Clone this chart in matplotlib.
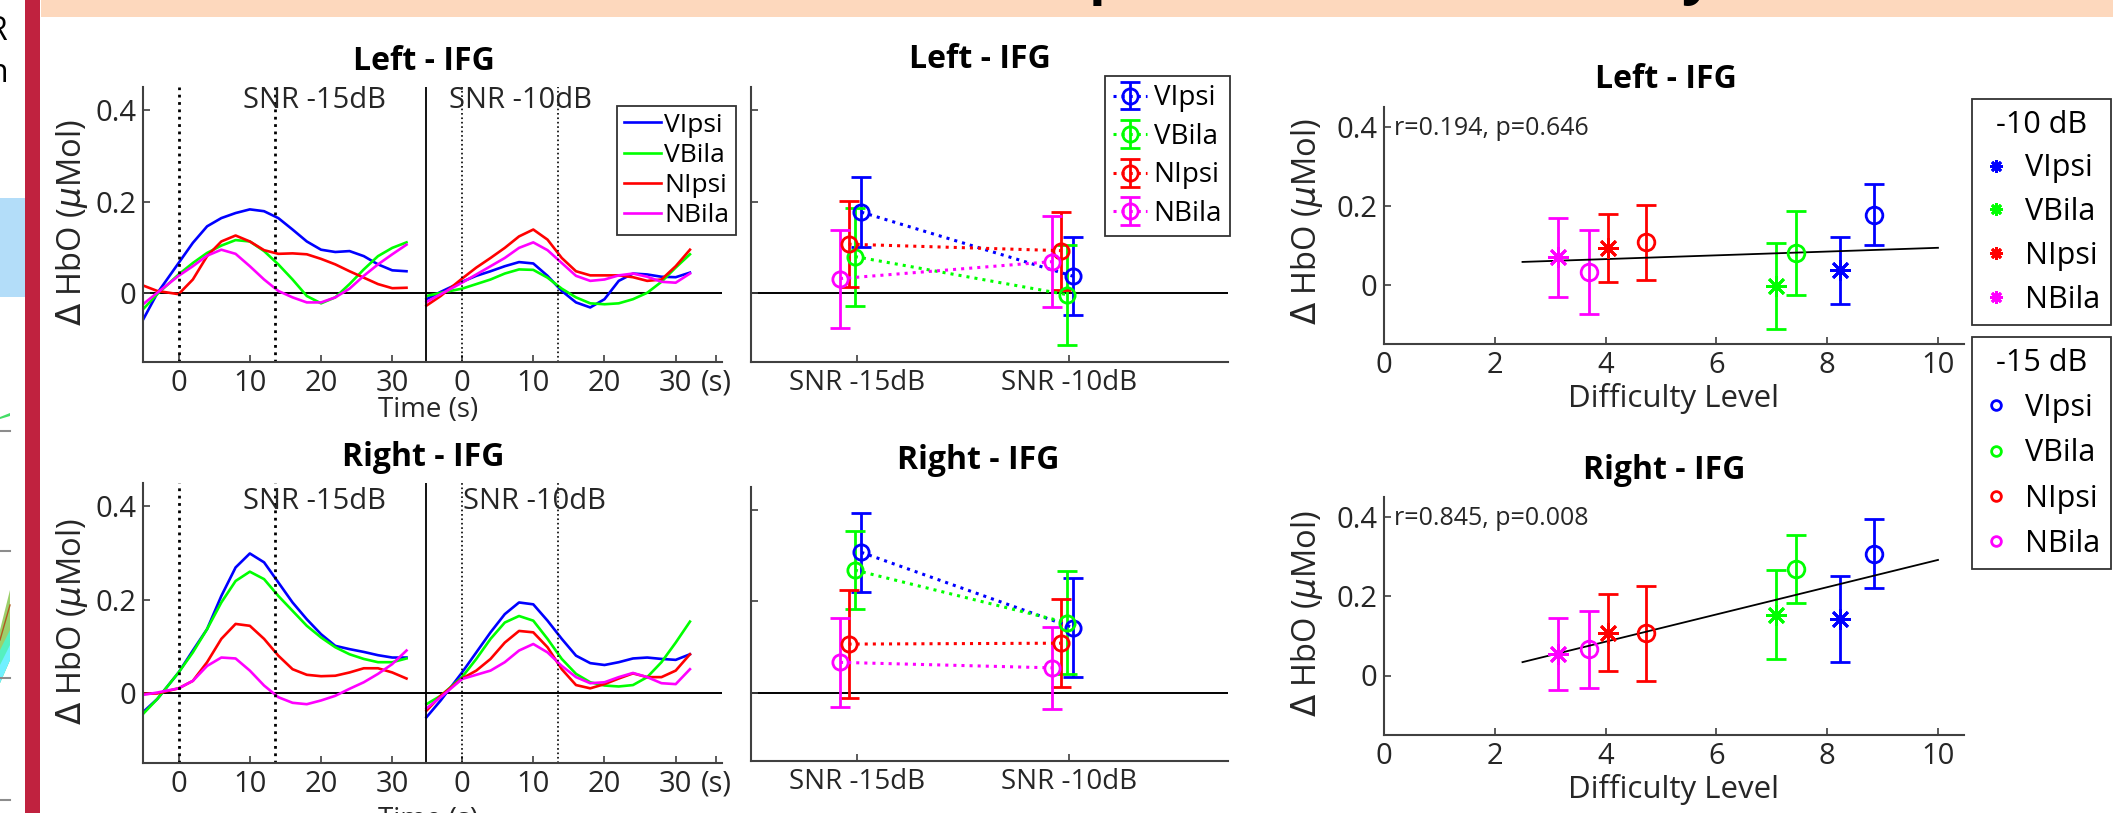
import numpy as np
import matplotlib
matplotlib.use('Agg')
import matplotlib.pyplot as plt
from matplotlib.lines import Line2D
from matplotlib.patches import Rectangle, Polygon

plt.rcParams['font.family'] = ['Open Sans', 'DejaVu Sans']
plt.rcParams['mathtext.fontset'] = 'dejavusans'

W, H = 2113, 813

# ---------------- data ----------------
conds = ['VIpsi', 'VBila', 'NIpsi', 'NBila']
colors = ['#0000ff', '#00ff00', '#ff0000', '#ff00ff']
snr_labels = ['SNR -15dB', 'SNR -10dB']

# time courses (s), rows = VIpsi, VBila, NIpsi, NBila
t = [-5, -3, 0, 2, 4, 6, 8, 10, 12, 14, 16, 18, 20, 22, 24, 26, 28, 30, 32]

left_15 = [
    [-0.058, 0.000, 0.066, 0.110, 0.146, 0.164, 0.175, 0.183, 0.179, 0.164, 0.139, 0.113, 0.095, 0.090, 0.092, 0.081, 0.063, 0.050, 0.048],
    [-0.035, -0.002, 0.041, 0.066, 0.088, 0.104, 0.116, 0.113, 0.092, 0.063, 0.030, -0.006, -0.022, -0.009, 0.020, 0.052, 0.081, 0.099, 0.111],
    [0.017, 0.005, -0.002, 0.030, 0.081, 0.113, 0.126, 0.113, 0.094, 0.086, 0.087, 0.085, 0.075, 0.063, 0.048, 0.034, 0.020, 0.011, 0.012],
    [-0.024, 0.001, 0.038, 0.059, 0.082, 0.095, 0.086, 0.059, 0.030, 0.005, -0.009, -0.020, -0.020, -0.009, 0.010, 0.038, 0.063, 0.085, 0.106],
]
left_10 = [
    [-0.013, 0.003, 0.025, 0.038, 0.048, 0.059, 0.068, 0.065, 0.038, 0.005, -0.020, -0.031, -0.013, 0.027, 0.043, 0.041, 0.036, 0.035, 0.045],
    [-0.006, 0.001, 0.010, 0.020, 0.030, 0.043, 0.052, 0.051, 0.034, 0.010, -0.009, -0.022, -0.024, -0.022, -0.013, 0.001, 0.025, 0.056, 0.085],
    [-0.027, -0.006, 0.032, 0.056, 0.077, 0.099, 0.124, 0.139, 0.117, 0.077, 0.048, 0.039, 0.039, 0.039, 0.035, 0.027, 0.030, 0.059, 0.095],
    [-0.019, -0.002, 0.023, 0.041, 0.059, 0.077, 0.099, 0.111, 0.094, 0.066, 0.038, 0.027, 0.030, 0.039, 0.043, 0.036, 0.025, 0.023, 0.043],
]
right_15 = [
    [-0.041, -0.013, 0.044, 0.091, 0.137, 0.208, 0.269, 0.299, 0.280, 0.237, 0.194, 0.158, 0.126, 0.101, 0.094, 0.088, 0.081, 0.076, 0.076],
    [-0.045, -0.013, 0.044, 0.087, 0.137, 0.194, 0.240, 0.260, 0.244, 0.208, 0.176, 0.144, 0.119, 0.098, 0.083, 0.073, 0.066, 0.066, 0.074],
    [-0.002, -0.001, 0.010, 0.026, 0.066, 0.116, 0.148, 0.144, 0.116, 0.080, 0.051, 0.039, 0.036, 0.037, 0.044, 0.053, 0.053, 0.044, 0.031],
    [-0.004, 0.001, 0.010, 0.026, 0.058, 0.076, 0.074, 0.048, 0.016, -0.009, -0.021, -0.024, -0.016, -0.006, 0.009, 0.023, 0.041, 0.062, 0.091],
]
right_10 = [
    [-0.052, -0.016, 0.044, 0.087, 0.130, 0.169, 0.194, 0.190, 0.155, 0.116, 0.080, 0.064, 0.060, 0.066, 0.074, 0.076, 0.073, 0.071, 0.083],
    [-0.024, -0.006, 0.034, 0.073, 0.116, 0.151, 0.165, 0.155, 0.116, 0.073, 0.041, 0.023, 0.016, 0.014, 0.017, 0.034, 0.066, 0.108, 0.153],
    [-0.038, -0.006, 0.031, 0.048, 0.073, 0.108, 0.133, 0.130, 0.098, 0.051, 0.017, 0.010, 0.019, 0.031, 0.042, 0.034, 0.034, 0.048, 0.083],
    [-0.033, -0.009, 0.030, 0.039, 0.048, 0.066, 0.091, 0.105, 0.087, 0.058, 0.034, 0.021, 0.023, 0.034, 0.043, 0.034, 0.021, 0.019, 0.051],
]

# mean +- error, averaged over window
left_m15 = [0.177, 0.080, 0.107, 0.032]
left_e15 = [0.077, 0.107, 0.094, 0.107]
left_m10 = [0.037, -0.003, 0.093, 0.069]
left_e10 = [0.085, 0.109, 0.085, 0.099]
right_m15 = [0.307, 0.268, 0.106, 0.066]
right_e15 = [0.087, 0.086, 0.119, 0.097]
right_m10 = [0.142, 0.153, 0.108, 0.054]
right_e10 = [0.109, 0.112, 0.097, 0.090]

# difficulty level per condition
diff_15 = [8.84, 7.44, 4.73, 3.70]
diff_10 = [8.24, 7.07, 4.04, 3.14]

r_left = 'r=0.194, p=0.646'
r_right = 'r=0.845, p=0.008'

# ---------------- figure ----------------
fig = plt.figure(figsize=(W / 100, H / 100), dpi=100)
fig.patch.set_facecolor('white')

def box(l, tp, r, b):
    return [l / W, 1 - b / H, (r - l) / W, (b - tp) / H]

def fx(x):
    return x / W

def fy(y):
    return 1 - y / H

TXT = '#262626'
SPC = '0.25'

# background slide pieces
bg = fig.add_axes([0, 0, 1, 1], zorder=-5)
bg.set_xlim(0, W)
bg.set_ylim(H, 0)
bg.axis('off')
bg.add_patch(Rectangle((0, 198), 25, 99, color='#b3ddf9', lw=0))
bg.add_patch(Rectangle((25, 0), 15, H, color='#c0223f', lw=0))
bg.add_patch(Rectangle((41, 0), W - 41, 17, color='#fdd8bd', lw=0))
for yy in [431, 551, 678, 800]:
    bg.plot([0, 10], [yy, yy], color='0.55', lw=1.5)
bg.add_patch(Polygon([[0, 417], [10, 413], [10, 416], [0, 419]], color='#44dd66', lw=0))
bg.add_patch(Polygon([[0, 630], [10, 590], [10, 660], [0, 683]], color='#9ccf6a', lw=0))
bg.add_patch(Polygon([[0, 650], [10, 630], [10, 660], [0, 683]], color='#55f0c0', lw=0))
bg.add_patch(Polygon([[0, 665], [10, 645], [10, 660], [0, 683]], color='#70f0ff', lw=0))
bg.plot([0, 10], [640, 605], color='#b05a20', lw=1)
fig.text(fx(7.5), fy(32), 'R', fontsize=23, ha='right', va='center', color='k')
fig.text(fx(7.5), fy(74), 'n', fontsize=23, ha='right', va='center', color='k')
fig.text(fx(1089), fy(-7), 'p', fontsize=40, fontweight='bold', ha='left', va='baseline', color='k')
fig.text(fx(1681), fy(-7), 'y', fontsize=40, fontweight='bold', ha='left', va='baseline', color='k')


def style_axes(ax, size):
    for s in ['top', 'right']:
        ax.spines[s].set_visible(False)
    for s in ['left', 'bottom']:
        ax.spines[s].set_color(SPC)
        ax.spines[s].set_linewidth(1.5)
    ax.tick_params(direction='in', length=5, width=1.2, colors=SPC,
                   labelcolor=TXT, labelsize=size, pad=5)
    ax.set_facecolor('none')


SHIFT = 39.8
SEP = 34.8
tt = np.array(t)


def draw_time(ax, d15, d10, y_snr, x_snr10):
    style_axes(ax, 21)
    for i in range(4):
        ax.plot(tt, d15[i], color=colors[i], lw=1.9, label=conds[i])
        ax.plot(tt + SHIFT, d10[i], color=colors[i], lw=1.9)
    ax.axhline(0, color='k', lw=1.4, zorder=1)
    ax.axvline(SEP, color='k', lw=1.3)
    for xv in [0, 13.5]:
        ax.axvline(xv, color='k', ls=':', lw=2.0)
    for xv in [SHIFT, SHIFT + 13.5]:
        ax.axvline(xv, color='k', ls=':', lw=1.2)
    ax.set_xlim(-5, 76.3)
    ax.set_ylim(-0.15, 0.45)
    ax.set_yticks([0, 0.2, 0.4])
    ax.set_yticklabels(['0', '0.2', '0.4'])
    ax.set_xticks([0, 10, 20, 30, SHIFT, SHIFT + 10, SHIFT + 20, SHIFT + 30, 75.5])
    ax.set_xticklabels(['0', '10', '20', '30', '0', '10', '20', '30', '(s)'])
    ax.text(9, y_snr, snr_labels[0], fontsize=21, color=TXT, va='center')
    ax.text(x_snr10, y_snr, snr_labels[1], fontsize=21, color=TXT, va='center')


off = [0.02, -0.01, -0.04, -0.08]


def draw_mid(ax, m15, e15, m10, e10):
    style_axes(ax, 20)
    ax.axhline(0, color='k', lw=1.4, zorder=1)
    for i in range(4):
        ax.errorbar([1 + off[i], 2 + off[i]], [m15[i], m10[i]], yerr=[e15[i], e10[i]],
                    color=colors[i], ls=':', lw=2.2, marker='o', ms=11, mfc='none',
                    mew=2, capsize=7, capthick=2, elinewidth=2, label=conds[i])
    ax.set_xlim(0.5, 2.75)
    ax.set_ylim(-0.15, 0.45)
    ax.set_yticks([0, 0.2, 0.4])
    ax.set_yticklabels([])
    ax.set_xticks([1, 2])
    ax.set_xticklabels(snr_labels)


STAR = (8, 2, 0)


def draw_scatter(ax, m15, e15, m10, e10, rtxt):
    style_axes(ax, 21)
    for i in range(4):
        ax.errorbar(diff_10[i], m10[i], yerr=e10[i], color=colors[i], ls='none',
                    marker=STAR, ms=15, mew=2, capsize=7, capthick=2, elinewidth=2)
        ax.errorbar(diff_15[i], m15[i], yerr=e15[i], color=colors[i], ls='none',
                    marker='o', ms=12, mfc='none', mew=2, capsize=7, capthick=2, elinewidth=2)
    xs = np.concatenate([diff_15, diff_10])
    ys = np.concatenate([m15, m10])
    k, b = np.polyfit(xs, ys, 1)
    xl = np.array([2.5, 10])
    ax.plot(xl, k * xl + b, color='k', lw=1.3)
    ax.set_xlim(0, 10.47)
    ax.set_ylim(-0.15, 0.45)
    ax.set_yticks([0, 0.2, 0.4])
    ax.set_yticklabels(['0', '0.2', '0.4'])
    ax.set_xticks([0, 2, 4, 6, 8, 10])
    ax.text(0.18, 0.395, rtxt, fontsize=18, color=TXT, va='center')


ylab = r'$\Delta$ HbO ($\mu$Mol)'

# time course panels
axA1 = fig.add_axes(box(143, 87, 722, 362))
draw_time(axA1, left_15, left_10, 0.42, 38)
axA2 = fig.add_axes(box(143, 483, 722, 763))
draw_time(axA2, right_15, right_10, 0.41, 40)
axA1.legend(loc='upper left', bbox_to_anchor=(fx(617), fy(106)), bbox_transform=fig.transFigure,
            borderaxespad=0, fontsize=19, handlelength=1.4, handletextpad=0.15,
            labelspacing=0.2, borderpad=0.25, fancybox=False, edgecolor='0.2',
            framealpha=1).get_frame().set_linewidth(1.3)

# mean panels
axB1 = fig.add_axes(box(751, 87, 1228, 362))
draw_mid(axB1, left_m15, left_e15, left_m10, left_e10)
axB2 = fig.add_axes(box(751, 487, 1228, 761))
draw_mid(axB2, right_m15, right_e15, right_m10, right_e10)
legB = axB1.legend(loc='upper left', bbox_to_anchor=(fx(1105), fy(76)), bbox_transform=fig.transFigure,
                   borderaxespad=0, fontsize=20, handlelength=1.2, handletextpad=0.25,
                   labelspacing=0.38, borderpad=0.3, fancybox=False, edgecolor='0.2', framealpha=1)
legB.get_frame().set_linewidth(1.3)

# correlation panels
axC1 = fig.add_axes(box(1384, 107, 1964, 344))
draw_scatter(axC1, left_m15, left_e15, left_m10, left_e10, r_left)
axC2 = fig.add_axes(box(1384, 497, 1964, 735))
draw_scatter(axC2, right_m15, right_e15, right_m10, right_e10, r_right)

h10 = [Line2D([], [], color=c, marker=STAR, ls='none', ms=9, mew=2) for c in colors]
h15 = [Line2D([], [], color=c, marker='o', ls='none', ms=7, mfc='none', mew=2) for c in colors]
for hh, ttl, ytop, sp in [(h10, '-10 dB', 99, 0.45), (h15, '-15 dB', 337, 0.5)]:
    lg = fig.legend(hh, conds, title=ttl, loc='upper left', bbox_to_anchor=(fx(1972), fy(ytop)),
                    borderaxespad=0, fontsize=22, title_fontsize=22, handlelength=0.9,
                    handletextpad=0.5, labelspacing=sp, borderpad=0.35, fancybox=False,
                    edgecolor='0.2', framealpha=1)
    lg.get_frame().set_linewidth(1.3)

# titles and labels
for (x, y, s) in [(424, 61, 'Left - IFG'), (423, 457, 'Right - IFG'),
                  (980, 60, 'Left - IFG'), (978, 460, 'Right - IFG'),
                  (1666, 79, 'Left - IFG'), (1664, 470, 'Right - IFG')]:
    fig.text(fx(x), fy(y), s, fontsize=23, fontweight='bold', ha='center', va='center', color='k')

for (x, y) in [(72, 223), (72, 622), (1307, 222), (1307, 614)]:
    fig.text(fx(x), fy(y), ylab, fontsize=23.5, rotation=90, ha='center', va='center', color=TXT)

fig.text(fx(428), fy(410), 'Time (s)', fontsize=20, ha='center', va='center', color=TXT)
fig.text(fx(428), fy(806), 'Time (s)', fontsize=20, ha='center', va='top', color=TXT)
fig.text(fx(1674), fy(398), 'Difficulty Level', fontsize=22.5, ha='center', va='center', color=TXT)
fig.text(fx(1674), fy(789), 'Difficulty Level', fontsize=22.5, ha='center', va='center', color=TXT)

fig.savefig('out.png', dpi=100)
